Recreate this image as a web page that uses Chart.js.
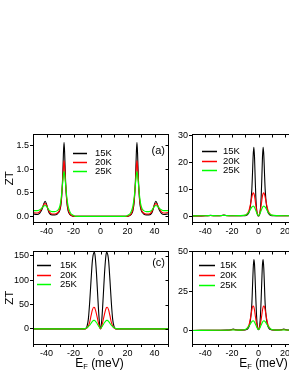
<!DOCTYPE html>
<html>
<head>
<meta charset="utf-8">
<script src="https://cdn.jsdelivr.net/npm/chart.js@4.4.1/dist/chart.umd.min.js"></script>
<style>
  html, body { margin: 0; padding: 0; background: #fff; overflow: hidden; }
  body { width: 289px; height: 374px; position: relative; }
  .panel { position: absolute; }
</style>
</head>
<body>
<div class="panel" style="left:0;top:128px;width:172px;height:112px"><canvas id="chartA"></canvas></div>
<div class="panel" style="left:172px;top:128px;width:157px;height:112px"><canvas id="chartB"></canvas></div>
<div class="panel" style="left:0;top:245px;width:172px;height:129px"><canvas id="chartC"></canvas></div>
<div class="panel" style="left:172px;top:245px;width:157px;height:129px"><canvas id="chartD"></canvas></div>
<script>
// shared axis ticks / legend
const xTicks = [-50, -40, -30, -20, -10, 0, 10, 20, 30, 40, 50];
const xLabeled = [-40, -20, 0, 20, 40];
const tempLabels = ['15K', '20K', '25K'];
const lineColors = ['#000000', '#ff0000', '#00ff00'];

// panel (a)
const xA = [-50,-47,-45,-43,-42,-41,-40,-39,-38,-36,-34,-32,-31,-30,-29,-28,-27.5,-27,-26.5,-26,-25,-24,-23,-22,-20,-18,0,18,20,22,23,24,25,26,26.5,27,27.5,28,29,30,31,32,34,36,38,39,40,41,42,43,45,47,50];
const zt15A = [0.05,0.04,0.07,0.17,0.27,0.32,0.26,0.15,0.07,0.03,0.03,0.05,0.08,0.14,0.32,0.85,1.3,1.57,1.3,0.85,0.32,0.12,0.05,0.02,0,0,0,0,0,0.02,0.05,0.12,0.32,0.85,1.3,1.57,1.3,0.85,0.32,0.14,0.08,0.05,0.03,0.03,0.07,0.15,0.26,0.32,0.27,0.17,0.07,0.04,0.05];
const zt20A = [0.08,0.07,0.1,0.19,0.25,0.27,0.24,0.17,0.1,0.05,0.05,0.07,0.1,0.17,0.36,0.76,1.02,1.18,1.02,0.76,0.36,0.15,0.07,0.03,0.005,0,0,0,0.005,0.03,0.07,0.15,0.36,0.76,1.02,1.18,1.02,0.76,0.36,0.17,0.1,0.07,0.05,0.05,0.1,0.17,0.24,0.27,0.25,0.19,0.1,0.07,0.08];
const zt25A = [0.12,0.12,0.14,0.19,0.22,0.23,0.21,0.17,0.13,0.1,0.1,0.12,0.15,0.23,0.42,0.72,0.87,0.95,0.87,0.72,0.42,0.22,0.12,0.06,0.02,0,0,0,0.02,0.06,0.12,0.22,0.42,0.72,0.87,0.95,0.87,0.72,0.42,0.23,0.15,0.12,0.1,0.1,0.13,0.17,0.21,0.23,0.22,0.19,0.14,0.12,0.12];
const yTicksA = [0, 0.5, 1.0, 1.5];

// panel (b)
const xB = [-50,-44,-40,-38,-36,-34,-30,-28,-26,-24,-20,-14,-10,-9,-8,-7,-6,-5,-4.5,-4,-3.5,-3,-2.5,-2,-1.5,-1,-0.5,0,0.5,1,1.5,2,2.5,3,3.5,4,4.5,5,6,7,8,9,10,14,20,24,26,28,30,34,36,38,40,44,50];
const zt15B = [0.05,0.08,0.1,0.15,0.25,0.15,0.1,0.2,0.4,0.2,0.1,0.1,0.15,0.3,0.7,1.6,4,10,16,22.5,25.5,22,14,7,3,1,0.25,0,0.25,1,3,7,14,22,25.5,22.5,16,10,4,1.6,0.7,0.3,0.15,0.1,0.1,0.2,0.4,0.2,0.1,0.15,0.25,0.15,0.1,0.08,0.05];
const zt20B = [0.05,0.08,0.1,0.14,0.2,0.14,0.1,0.18,0.3,0.18,0.1,0.12,0.3,0.6,1.2,2.4,4.5,7,8.1,8.6,8.4,7.5,5.8,4,2.4,1.1,0.35,0.05,0.35,1.1,2.4,4,5.8,7.5,8.4,8.6,8.1,7,4.5,2.4,1.2,0.6,0.3,0.12,0.1,0.18,0.3,0.18,0.1,0.14,0.2,0.14,0.1,0.08,0.05];
const zt25B = [0.08,0.1,0.12,0.15,0.2,0.15,0.12,0.18,0.25,0.18,0.12,0.15,0.35,0.6,1,1.6,2.5,3.3,3.6,3.7,3.6,3.2,2.7,2,1.4,0.8,0.35,0.15,0.35,0.8,1.4,2,2.7,3.2,3.6,3.7,3.6,3.3,2.5,1.6,1,0.6,0.35,0.15,0.12,0.18,0.25,0.18,0.12,0.15,0.2,0.15,0.12,0.1,0.08];
const yTicksB = [0, 10, 20, 30];

// panel (c)
const xC = [-50,-20,-14,-12,-11,-10,-9,-8,-7,-6,-5,-4.5,-4,-3,-2,-1,-0.5,0,0.5,1,2,3,4,4.5,5,6,7,8,9,10,11,12,14,20,50];
const zt15C = [0,0,0,0,0.5,5,20,55,100,140,156,157,150,115,65,20,5,0,5,20,65,115,150,157,156,140,100,55,20,5,0.5,0,0,0,0];
const zt20C = [0,0,0,0,0.5,2,6,14,27,39,44.5,44,41,31,18,6,2,0.5,2,6,18,31,41,44,44.5,39,27,14,6,2,0.5,0,0,0,0];
const zt25C = [0,0,0,0.5,1.2,2.5,4.5,7.5,11.5,15.5,17.5,17.5,16.5,13,8.5,4,2.2,1.5,2.2,4,8.5,13,16.5,17.5,17.5,15.5,11.5,7.5,4.5,2.5,1.2,0.5,0,0,0];
const yTicksC = [0, 50, 100, 150];

// panel (d)
const xD = [-50,-30,-24,-21,-19,-17,-14,-10,-9,-8,-7,-6,-5,-4.5,-4,-3.5,-3,-2.5,-2,-1.5,-1,-0.5,0,0.5,1,1.5,2,2.5,3,3.5,4,4.5,5,6,7,8,9,10,14,17,19,21,24,30,50];
const zt15D = [0,0.1,0.2,0.4,0.9,0.4,0.2,0.3,0.6,1.2,2.8,7,17,28,39,45,42,32,20,10,4,1.2,0.5,1.2,4,10,20,32,42,45,39,28,17,7,2.8,1.2,0.6,0.3,0.2,0.4,0.9,0.4,0.2,0.1,0];
const zt20D = [0,0.1,0.15,0.3,0.6,0.3,0.2,0.5,1,2,4,8,13,15,15.5,15,13,10,7,4.5,2.5,1.2,0.8,1.2,2.5,4.5,7,10,13,15,15.5,15,13,8,4,2,1,0.5,0.2,0.3,0.6,0.3,0.15,0.1,0];
const zt25D = [0,0.1,0.15,0.25,0.4,0.25,0.2,0.6,1.1,1.9,3,4.3,5.6,6,6.1,5.9,5.3,4.4,3.4,2.4,1.5,0.9,0.7,0.9,1.5,2.4,3.4,4.4,5.3,5.9,6.1,6,5.6,4.3,3,1.9,1.1,0.6,0.2,0.25,0.4,0.25,0.15,0.1,0];
const yTicksD = [0, 25, 50];

const FONT = '"Liberation Sans", Arial, sans-serif';

// frame, inner ticks, legend, panel tag and E_F title
const deco = {
    id: 'deco',
    afterDraw(chart, args, o) {
        const { ctx, chartArea: a, scales } = chart;
        ctx.save();
        ctx.strokeStyle = '#000';
        ctx.lineWidth = 1;
        const l = Math.round(a.left) + 0.5, t = Math.round(a.top) + 0.5;
        const r = Math.round(a.right) + 0.5, b = Math.round(a.bottom) + 0.5;
        ctx.strokeRect(l, t, r - l, b - t);
        ctx.beginPath();
        xTicks.forEach(v => {
            const px = Math.round(scales.x.getPixelForValue(v)) + 0.5;
            ctx.moveTo(px, t); ctx.lineTo(px, t + 3);
        });
        o.yTicks.forEach(v => {
            const py = Math.round(scales.y.getPixelForValue(v)) + 0.5;
            ctx.moveTo(r, py); ctx.lineTo(r - 3, py);
        });
        ctx.stroke();

        ctx.font = '9.5px ' + FONT;
        ctx.textBaseline = 'middle';
        chart.data.datasets.forEach((d, i) => {
            const y = Math.round(a.top + o.legY + i * o.legGap) + 0.5;
            const x0 = a.left + o.legX;
            ctx.strokeStyle = d.borderColor;
            ctx.lineWidth = 1.5;
            ctx.beginPath(); ctx.moveTo(x0, y); ctx.lineTo(x0 + o.legLen, y); ctx.stroke();
            ctx.fillStyle = '#000';
            ctx.fillText(d.label, x0 + o.legText, y);
        });

        if (o.tag) {
            ctx.font = '11px ' + FONT;
            ctx.textAlign = 'right';
            ctx.fillText(o.tag, a.right - 3, a.top + o.tagY);
        }

        if (o.xTitle) {
            ctx.textAlign = 'left';
            ctx.textBaseline = 'alphabetic';
            const big = '12px ' + FONT, small = '7.5px ' + FONT;
            ctx.font = big; const wE = ctx.measureText('E').width;
            const wRest = ctx.measureText(' (meV)').width;
            ctx.font = small; const wF = ctx.measureText('F').width;
            let x = (a.left + a.right) / 2 + o.titleShift - (wE + wF + wRest) / 2;
            const y = o.titleY;
            ctx.font = big; ctx.fillText('E', x, y); x += wE;
            ctx.font = small; ctx.fillText('F', x, y + 2); x += wF;
            ctx.font = big; ctx.fillText(' (meV)', x, y);
        }
        ctx.restore();
    }
};

function makePanel(id, xs, series, cfg) {
    const datasets = series.map((ys, i) => ({
        label: tempLabels[i],
        data: xs.map((x, j) => ({ x: x, y: ys[j] })),
        borderColor: lineColors[i],
        borderWidth: 1.1,
        pointRadius: 0,
        cubicInterpolationMode: 'monotone',
        order: 2 - i
    }));

    new Chart(document.getElementById(id), {
        type: 'line',
        data: { datasets },
        plugins: [deco],
        options: {
            responsive: true,
            maintainAspectRatio: false,
            animation: false,
            layout: { padding: { top: cfg.padTop, right: 4, left: 0, bottom: 0 } },
            plugins: {
                legend: { display: false },
                tooltip: { enabled: false },
                deco: cfg.deco
            },
            scales: {
                x: {
                    type: 'linear',
                    min: -50,
                    max: 50,
                    afterBuildTicks: s => { s.ticks = xTicks.map(v => ({ value: v })); },
                    afterFit: s => { s.height = cfg.xHeight; },
                    ticks: {
                        autoSkip: false,
                        maxRotation: 0,
                        padding: 1,
                        color: '#000',
                        font: { family: FONT, size: 9 },
                        callback: v => xLabeled.includes(v) ? String(v) : ''
                    },
                    grid: { drawOnChartArea: false, tickLength: 3, color: '#000' },
                    border: { color: '#000' }
                },
                y: {
                    min: cfg.yMin,
                    max: cfg.yMax,
                    afterBuildTicks: s => { s.ticks = cfg.yTicks.map(v => ({ value: v })); },
                    afterFit: s => { s.width = cfg.yWidth; },
                    ticks: {
                        padding: 1,
                        color: '#000',
                        font: { family: FONT, size: 9 },
                        callback: v => v.toFixed(cfg.decimals)
                    },
                    grid: { drawOnChartArea: false, tickLength: 3, color: '#000' },
                    border: { color: '#000' },
                    title: {
                        display: cfg.yTitle,
                        text: 'ZT',
                        color: '#000',
                        font: { family: FONT, size: 11.5 },
                        padding: { top: 3, bottom: 0 }
                    }
                }
            }
        }
    });
}

makePanel('chartA', xA, [zt15A, zt20A, zt25A], {
    padTop: 5, xHeight: 18, yWidth: 33, yMin: -0.12, yMax: 1.735, yTicks: yTicksA, decimals: 1, yTitle: true,
    deco: { yTicks: yTicksA, legX: 40, legY: 19, legGap: 8.8, legLen: 14, legText: 22, tag: '(a)', tagY: 17, xTitle: false }
});
makePanel('chartB', xB, [zt15B, zt20B, zt25B], {
    padTop: 5, xHeight: 18, yWidth: 20, yMin: -2.2, yMax: 30.3, yTicks: yTicksB, decimals: 0, yTitle: false,
    deco: { yTicks: yTicksB, legX: 10, legY: 17, legGap: 9.5, legLen: 15, legText: 21, tag: '', xTitle: false }
});
makePanel('chartC', xC, [zt15C, zt20C, zt25C], {
    padTop: 4, xHeight: 30, yWidth: 33, yMin: -31, yMax: 159, yTicks: yTicksC, decimals: 0, yTitle: true,
    deco: { yTicks: yTicksC, legX: 4, legY: 14, legGap: 9.4, legLen: 14, legText: 23, tag: '(c)', tagY: 12, xTitle: true, titleShift: -1, titleY: 122 }
});
makePanel('chartD', xD, [zt15D, zt20D, zt25D], {
    padTop: 4, xHeight: 30, yWidth: 20, yMin: -8.6, yMax: 50.2, yTicks: yTicksD, decimals: 0, yTitle: false,
    deco: { yTicks: yTicksD, legX: 7, legY: 14, legGap: 10, legLen: 16, legText: 21, tag: '', xTitle: true, titleShift: 5, titleY: 122 }
});
</script>
</body>
</html>
